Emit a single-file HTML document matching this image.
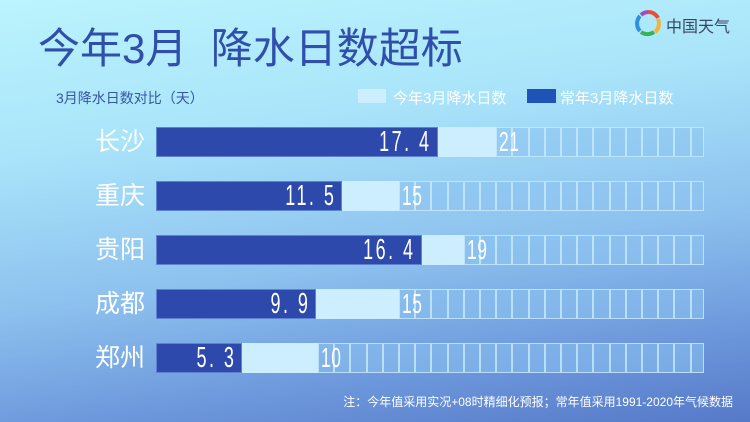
<!DOCTYPE html>
<html><head><meta charset="utf-8"><style>
*{margin:0;padding:0;box-sizing:border-box}
body{width:750px;height:422px;overflow:hidden;position:relative;font-family:"Liberation Sans","Noto Sans CJK SC",sans-serif;
background:linear-gradient(172deg,#bbf4fd 0%,#a9e4fa 30%,#8cc0ee 60%,#6d98dc 82%,#5679c8 100%)}
.t{position:absolute;white-space:nowrap}
.row{position:absolute;left:156px;height:30px;width:548px}
.dark{position:absolute;top:0;height:30px;background:#2c49ab;border:1px solid #5f82d0}
.vl{position:absolute;top:0;line-height:30px;color:#fff;font-size:29px;transform:scaleX(0.62);transform-origin:right center;letter-spacing:4px;white-space:pre}
.light{position:absolute;top:0;height:30px;background:#cdeefe}
.cell{position:absolute;top:0;height:30px;width:16.2px;background:rgba(140,195,240,0.55);border:1px solid rgba(205,238,255,0.75)}
.num{position:absolute;top:0;line-height:30px;color:#fff;font-size:28px;transform:scaleX(0.62);transform-origin:left center;letter-spacing:1px;white-space:nowrap}
.city{position:absolute;left:95px;color:#fff;font-size:25px;line-height:30px}
</style></head><body>
<div class="t" style="left:38px;top:15px;font-size:42px;color:#2f4fab">今年3月&nbsp;&nbsp;降水日数超标</div>
<div class="t" style="left:56px;top:88px;font-size:14px;color:#3656a6">3月降水日数对比（天）</div>
<div class="t" style="left:358px;top:89px;width:28px;height:14px;background:#cdeefe"></div>
<div class="t" style="left:393px;top:87px;font-size:15px;color:#fff">今年3月降水日数</div>
<div class="t" style="left:527px;top:89px;width:29px;height:14px;background:#1f53b8"></div>
<div class="t" style="left:560px;top:87px;font-size:15px;color:#fff">常年3月降水日数</div>
<svg class="t" style="left:634px;top:9px" width="28" height="28" viewBox="0 0 28 28">
<path d="M14 3a11 11 0 0 1 10 6" stroke="#e94b3c" stroke-width="4" fill="none"/>
<path d="M24 10a11 11 0 0 1-3 13" stroke="#f3b23a" stroke-width="4" fill="none"/>
<path d="M20 23a11 11 0 0 1-13 0" stroke="#38b25a" stroke-width="4" fill="none"/>
<path d="M6 22a11 11 0 0 1 0-15" stroke="#2f8fe0" stroke-width="4" fill="none"/>
<path d="M7 6a11 11 0 0 1 7-3" stroke="#9b4cc8" stroke-width="4" fill="none"/></svg>
<div class="t" style="left:666px;top:13px;font-size:16px;color:#3a4560">中国天气</div>
<div id="rows"></div>
<div class="t" style="right:17px;top:393px;font-size:12px;color:#fff">注：今年值采用实况+08时精细化预报；常年值采用1991-2020年气候数据</div>
<script>
var d=[["长沙",17.4,21],["重庆",11.5,15],["贵阳",16.4,19],["成都",9.9,15],["郑州",5.3,10]];
var s=16.2,h="";
d.forEach(function(r,i){var y=127+i*54;
h+='<div class="city" style="top:'+y+'px">'+r[0]+'</div><div class="row" style="top:'+y+'px">';
h+='<div class="light" style="left:0;width:'+(r[2]*s)+'px"></div>';
for(var x=r[2]*s;x<548;x+=s){h+='<div class="cell" style="left:'+x+'px;width:'+Math.min(s,548-x)+'px"></div>';}
h+='<div class="dark" style="left:0;width:'+(r[1]*s)+'px"></div>';
h+='<div class="vl" style="right:'+(548-r[1]*s+6)+'px">'+r[1].toFixed(1).replace(".",". ")+'</div>';
h+='<div class="num" style="left:'+(r[2]*s+3)+'px">'+r[2]+'</div></div>';});
document.getElementById("rows").innerHTML=h;
</script>
</body></html>
